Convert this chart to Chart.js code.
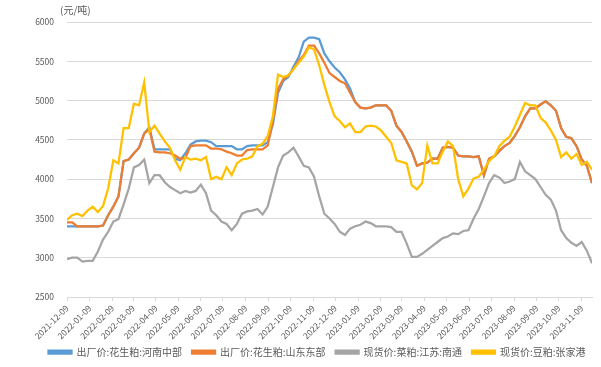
<!DOCTYPE html>
<html><head><meta charset="utf-8">
<script src="https://cdn.jsdelivr.net/npm/chart.js@4"></script>
<style>html,body{margin:0;padding:0;background:#fff;}#wrap{width:601px;height:367px;}</style>
</head><body><div id="wrap"><canvas id="c" width="601" height="367"></canvas></div>
<script>
const dates = [
'2021-12-09','2021-12-16','2021-12-23','2021-12-30','2022-01-06','2022-01-13','2022-01-20','2022-01-27','2022-02-03','2022-02-10',
'2022-02-17','2022-02-24','2022-03-03','2022-03-10','2022-03-17','2022-03-24','2022-03-31','2022-04-07','2022-04-14','2022-04-21',
'2022-04-28','2022-05-05','2022-05-12','2022-05-19','2022-05-26','2022-06-02','2022-06-09','2022-06-16','2022-06-23','2022-06-30',
'2022-07-07','2022-07-14','2022-07-21','2022-07-28','2022-08-04','2022-08-11','2022-08-18','2022-08-25','2022-09-01','2022-09-08',
'2022-09-15','2022-09-22','2022-09-29','2022-10-06','2022-10-13','2022-10-20','2022-10-27','2022-11-03','2022-11-10','2022-11-17',
'2022-11-24','2022-12-01','2022-12-08','2022-12-15','2022-12-22','2022-12-29','2023-01-05','2023-01-12','2023-01-19','2023-01-26',
'2023-02-02','2023-02-09','2023-02-16','2023-02-23','2023-03-02','2023-03-09','2023-03-16','2023-03-23','2023-03-30','2023-04-06',
'2023-04-13','2023-04-20','2023-04-27','2023-05-04','2023-05-11','2023-05-18','2023-05-25','2023-06-01','2023-06-08','2023-06-15',
'2023-06-22','2023-06-29','2023-07-06','2023-07-13','2023-07-20','2023-07-27','2023-08-03','2023-08-10','2023-08-17','2023-08-24',
'2023-08-31','2023-09-07','2023-09-14','2023-09-21','2023-09-28','2023-10-05','2023-10-12','2023-10-19','2023-10-26','2023-11-02',
'2023-11-09','2023-11-16','2023-11-23'];

const henan = [
3400,3400,3400,3400,3400,3400,3400,3410,3540,3650,
3780,4230,4250,4330,4400,4580,4660,4380,4380,4380,
4380,4260,4240,4330,4440,4480,4490,4490,4470,4420,
4420,4420,4420,4380,4380,4420,4430,4430,4430,4470,
4700,5100,5250,5300,5430,5550,5750,5800,5800,5780,
5600,5500,5420,5360,5270,5150,4980,4910,4900,4910,
4940,4940,4940,4870,4680,4600,4480,4350,4170,4200,
4210,4260,4260,4400,4410,4400,4300,4290,4290,4280,
4290,4050,4260,4290,4360,4420,4460,4550,4660,4800,
4900,4900,4950,4990,4940,4870,4650,4540,4520,4420,
4250,4170,3950];

const shandong = [
3450,3450,3400,3400,3400,3400,3400,3410,3540,3650,
3780,4230,4250,4330,4400,4580,4640,4350,4340,4340,
4330,4300,4260,4270,4420,4430,4430,4430,4390,4390,
4380,4350,4330,4300,4300,4370,4380,4380,4380,4430,
4750,5150,5270,5320,5400,5500,5580,5700,5700,5600,
5480,5350,5300,5250,5220,5100,4980,4910,4900,4910,
4940,4940,4940,4870,4680,4600,4480,4350,4170,4200,
4210,4260,4260,4400,4410,4400,4300,4290,4290,4280,
4290,4050,4260,4290,4360,4420,4460,4550,4660,4800,
4900,4900,4950,4990,4940,4870,4650,4540,4520,4420,
4250,4170,3950];

const nantong = [
2980,3000,3000,2950,2960,2960,3080,3230,3330,3460,
3490,3680,3880,4150,4180,4250,3950,4050,4050,3960,
3900,3860,3820,3850,3830,3850,3930,3820,3600,3540,
3460,3430,3350,3430,3560,3590,3600,3620,3550,3650,
3900,4150,4300,4340,4400,4290,4170,4150,4030,3780,
3560,3500,3430,3330,3290,3370,3400,3420,3460,3440,
3400,3400,3400,3390,3330,3330,3180,3010,3010,3050,
3100,3150,3200,3250,3270,3310,3300,3340,3350,3500,
3620,3780,3950,4050,4020,3950,3970,4000,4220,4100,
4050,4000,3900,3800,3740,3600,3350,3250,3190,3150,
3200,3090,2930];

const zhangjiagang = [
3480,3540,3560,3530,3600,3650,3580,3660,3880,4240,
4200,4650,4650,4960,4940,5230,4600,4680,4580,4480,
4400,4240,4120,4280,4250,4260,4240,4280,4000,4030,
4000,4150,4050,4200,4250,4260,4290,4420,4450,4550,
4800,5330,5300,5320,5400,5480,5560,5680,5650,5450,
5200,4980,4800,4740,4660,4710,4600,4600,4670,4680,
4670,4620,4540,4460,4240,4220,4200,3920,3870,3950,
4430,4200,4200,4350,4480,4420,4000,3780,3880,4010,
4030,4120,4230,4290,4420,4490,4540,4670,4820,4970,
4940,4940,4780,4720,4620,4500,4280,4340,4260,4320,
4180,4220,4120];

const seriesNames = ['出厂价:花生粕:河南中部','出厂价:花生粕:山东东部','现货价:菜粕:江苏:南通','现货价:豆粕:张家港'];
const seriesColors = ['#5B9BD5','#ED7D31','#A5A5A5','#FFC000'];
const tickLabels = ['2021-12-09','2022-01-09','2022-02-09','2022-03-09','2022-04-09','2022-05-09','2022-06-09','2022-07-09',
'2022-08-09','2022-09-09','2022-10-09','2022-11-09','2022-12-09','2023-01-09','2023-02-09','2023-03-09','2023-04-09',
'2023-05-09','2023-06-09','2023-07-09','2023-08-09','2023-09-09','2023-10-09','2023-11-09'];
const yMin = 2500, yMax = 6000, yStep = 500;
const unitLabel = '(元/吨)';

const toDay = s => { const [y,m,d] = s.split('-').map(Number); return Math.round((Date.UTC(y,m-1,d) - Date.UTC(2021,11,9)) / 864e5); };
const mk = arr => dates.map((d,i) => ({x: toDay(d), y: arr[i]}));
const tickMap = {}; tickLabels.forEach(l => tickMap[toDay(l)] = l);

const FONT = '"Noto Sans CJK SC", "Noto Sans", sans-serif';
Chart.defaults.font.family = FONT;
Chart.defaults.color = '#595959';

const unitPlugin = {
  id: 'unitLabel',
  afterDraw(chart) {
    const {ctx, chartArea} = chart;
    ctx.save();
    ctx.font = '10px ' + FONT;
    ctx.fillStyle = '#595959';
    ctx.textAlign = 'left';
    ctx.textBaseline = 'middle';
    ctx.fillText(unitLabel, chartArea.left - 7, 10);
    ctx.restore();
  }
};
const legendShift = {
  id: 'legendShift',
  afterLayout(chart) {
    const lg = chart.legend;
    if (lg) { lg.left += 21; lg.right += 21; lg.top -= 4; lg.bottom -= 4; }
  }
};

const allSeries = [henan, shandong, nantong, zhangjiagang];
const datasets = allSeries.map((arr, i) => ({
  label: seriesNames[i],
  data: mk(arr),
  borderColor: seriesColors[i],
  backgroundColor: seriesColors[i],
  borderWidth: 2.25,
  pointRadius: 0,
  tension: 0,
  order: 3 - i
}));

new Chart(document.getElementById('c'), {
  type: 'line',
  data: { datasets },
  plugins: [unitPlugin, legendShift],
  options: {
    responsive: false,
    animation: false,
    devicePixelRatio: 1,
    layout: { padding: { left: 0, right: 9, top: 22, bottom: -4 } },
    plugins: {
      tooltip: { enabled: false },
      legend: {
        position: 'bottom',
        labels: {
          boxWidth: 23, boxHeight: 3, padding: 10,
          font: { size: 10 }, color: '#595959',
          sort: (a, b) => a.datasetIndex - b.datasetIndex
        }
      }
    },
    scales: {
      x: {
        type: 'linear',
        min: 0,
        max: toDay(dates[dates.length - 1]),
        afterBuildTicks: s => { s.ticks = tickLabels.map(l => ({ value: toDay(l) })); },
        afterFit: s => { s.height = 44; },
        ticks: {
          autoSkip: false, maxRotation: 45, minRotation: 45,
          font: { size: 8.5 }, color: '#595959', padding: 2,
          callback: v => tickMap[v] || ''
        },
        grid: { drawOnChartArea: false, drawTicks: true, tickLength: 4, color: '#D9D9D9' },
        border: { display: true, color: '#D9D9D9' }
      },
      y: {
        min: yMin, max: yMax,
        afterFit: s => { s.width = 67; },
        ticks: { stepSize: yStep, font: { size: 8.5 }, color: '#595959', padding: 13, callback: v => String(v) },
        grid: { color: '#D9D9D9', drawTicks: false },
        border: { display: false }
      }
    }
  }
});
</script></body></html>
